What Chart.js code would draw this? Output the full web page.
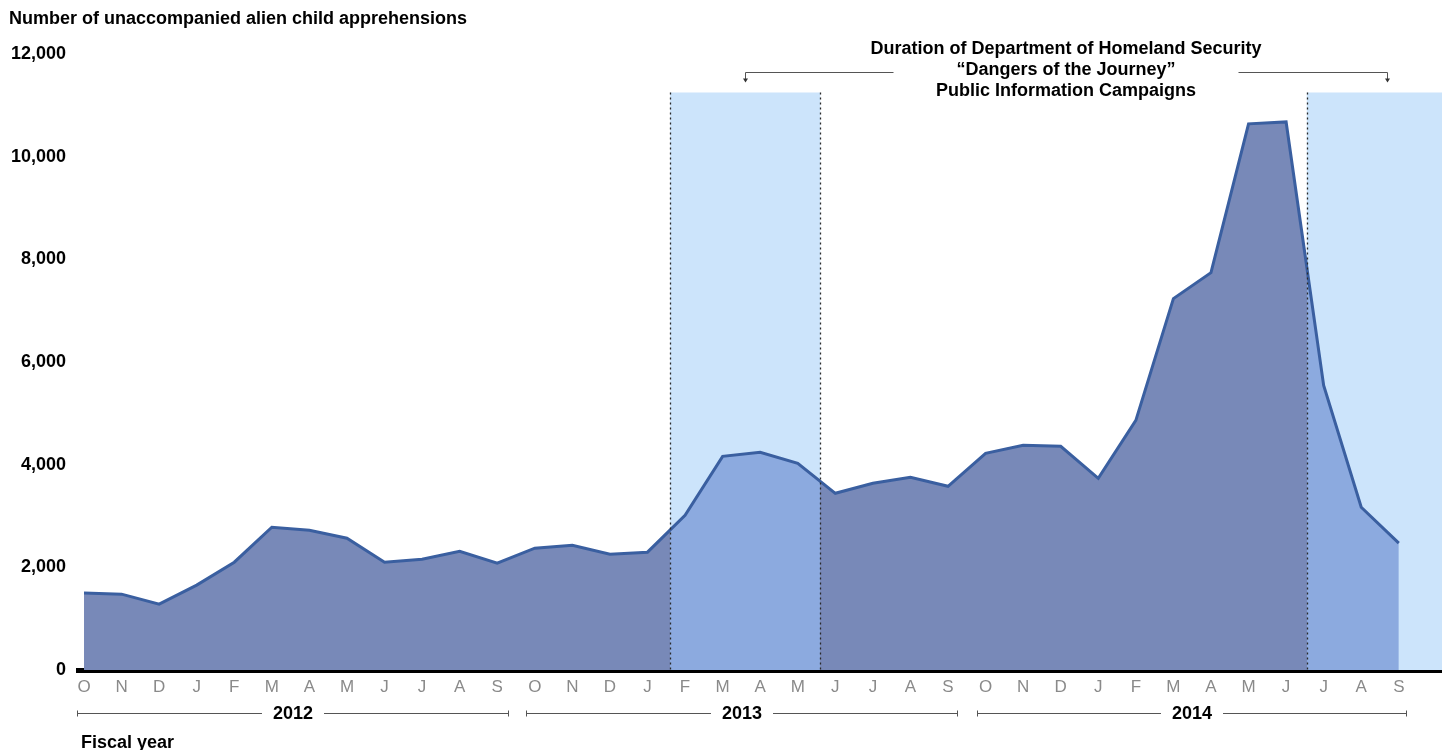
<!DOCTYPE html>
<html>
<head>
<meta charset="utf-8">
<script src="https://cdn.jsdelivr.net/npm/chart.js@4"></script>
<style>
  html, body { margin: 0; padding: 0; background: #ffffff; }
  #wrap { width: 1442px; height: 750px; position: relative; }
</style>
</head>
<body>
<div id="wrap"><canvas id="c"></canvas></div>
<script>
// ---------------- data ----------------
const monthLabels = ['O','N','D','J','F','M','A','M','J','J','A','S',
                     'O','N','D','J','F','M','A','M','J','J','A','S',
                     'O','N','D','J','F','M','A','M','J','J','A','S'];
const apprehensions = [1498, 1478, 1284, 1653, 2100, 2781, 2723, 2567, 2100, 2159, 2314, 2081,
                       2373, 2431, 2256, 2295, 3015, 4162, 4240, 4026, 3442, 3637, 3754, 3579,
                       4220, 4376, 4357, 3734, 4862, 7235, 7741, 10639, 10677, 5543, 3170, 2470];
const yTickValues = [0, 2000, 4000, 6000, 8000, 10000, 12000];
const fiscalYears = ['2012', '2013', '2014'];
const fiscalYearSpans = [[-0.19, 11.3], [11.76, 23.23], [23.76, 35.2]];
const campaignSpans = [[15.6, 19.6], [32.55, 36.15]];
const campaignTop = 11250;
const campaignArrowX = [17.6, 34.68];
const campaignArrowLineEnd = [21.53, 30.72];
const annotationLines = ['Duration of Department of Homeland Security', '\u201CDangers of the Journey\u201D', 'Public Information Campaigns'];
const annotationCenterX = 26.14;
const yAxisTitle = 'Number of unaccompanied alien child apprehensions';
const xAxisTitle = 'Fiscal year';

// ---------------- styles ----------------
const FONT = '"Liberation Sans", Arial, Helvetica, sans-serif';
const areaColor = 'rgb(120,137,184)';
const areaCampaignColor = 'rgb(140,170,223)';
const boxColor = 'rgb(204,228,251)';
const lineColor = 'rgb(58,95,160)';

const X_MIN = -0.16, X_MAX = 36.15;

function areaFill(ctx) {
  const chart = ctx.chart;
  const area = chart.chartArea;
  const xs = chart.scales.x;
  if (!area || !xs) return areaColor;
  const L = area.left, R = area.right, W = R - L;
  const g = chart.ctx.createLinearGradient(L, 0, R, 0);
  g.addColorStop(0, areaColor);
  campaignSpans.forEach(([a, b]) => {
    const p1 = Math.min(1, Math.max(0, (xs.getPixelForValue(a) - L) / W));
    const p2 = Math.min(1, Math.max(0, (xs.getPixelForValue(b) - L) / W));
    g.addColorStop(p1, areaColor);
    g.addColorStop(p1, areaCampaignColor);
    g.addColorStop(p2, areaCampaignColor);
    g.addColorStop(p2, areaColor);
  });
  return g;
}

const decorPlugin = {
  id: 'decor',
  beforeDatasetsDraw(chart) {
    const {ctx, scales: {x, y}} = chart;
    ctx.save();
    ctx.fillStyle = boxColor;
    campaignSpans.forEach(([a, b]) => {
      const x1 = x.getPixelForValue(a), x2 = x.getPixelForValue(b);
      const yt = y.getPixelForValue(campaignTop), yb = y.getPixelForValue(0);
      ctx.fillRect(x1, yt, x2 - x1, yb - yt);
    });
    ctx.restore();
  },
  afterDatasetsDraw(chart) {
    const {ctx, chartArea, scales: {x, y}} = chart;
    ctx.save();
    // dotted edges of campaign boxes
    ctx.strokeStyle = '#2a2a2a';
    ctx.lineWidth = 1.3;
    ctx.setLineDash([2, 3]);
    const yt = y.getPixelForValue(campaignTop), yb = y.getPixelForValue(0);
    campaignSpans.forEach(([a, b]) => {
      [a, b].forEach(v => {
        const px = Math.round(x.getPixelForValue(v)) + 0.5;
        if (px < chartArea.right - 2) {
          ctx.beginPath();
          ctx.moveTo(px, yt);
          ctx.lineTo(px, yb);
          ctx.stroke();
        }
      });
    });
    ctx.setLineDash([]);

    // annotation text
    ctx.fillStyle = '#000';
    ctx.font = 'bold 18px ' + FONT;
    ctx.textAlign = 'center';
    ctx.textBaseline = 'middle';
    const cx = x.getPixelForValue(annotationCenterX);
    const top = chartArea.top;
    annotationLines.forEach((t, i) => {
      ctx.fillText(t, cx, top - 5 + i * 21);
    });

    // arrows
    ctx.strokeStyle = '#555';
    ctx.fillStyle = '#333';
    ctx.lineWidth = 1;
    const ay = Math.round(top + 18) + 0.5;
    campaignArrowX.forEach((v, i) => {
      const ax = Math.round(x.getPixelForValue(v)) + 0.5;
      const ex = Math.round(x.getPixelForValue(campaignArrowLineEnd[i])) + 0.5;
      ctx.beginPath();
      ctx.moveTo(ex, ay);
      ctx.lineTo(ax, ay);
      ctx.lineTo(ax, ay + 7);
      ctx.stroke();
      ctx.beginPath();
      ctx.moveTo(ax - 2.5, ay + 6);
      ctx.lineTo(ax + 2.5, ay + 6);
      ctx.lineTo(ax, ay + 10);
      ctx.closePath();
      ctx.fill();
    });

    // fiscal year brackets
    const by = 713.5;
    ctx.font = 'bold 18px ' + FONT;
    fiscalYears.forEach((label, i) => {
      const [a, b] = fiscalYearSpans[i];
      const x1 = Math.round(x.getPixelForValue(a)) + 0.5;
      const x2 = Math.round(x.getPixelForValue(b)) + 0.5;
      const mid = (x1 + x2) / 2;
      const tw = ctx.measureText(label).width;
      ctx.strokeStyle = '#555';
      ctx.lineWidth = 1;
      ctx.beginPath();
      ctx.moveTo(x1, by); ctx.lineTo(mid - tw / 2 - 11, by);
      ctx.moveTo(mid + tw / 2 + 11, by); ctx.lineTo(x2, by);
      ctx.moveTo(x1, by - 3); ctx.lineTo(x1, by + 3);
      ctx.moveTo(x2, by - 3); ctx.lineTo(x2, by + 3);
      ctx.stroke();
      ctx.fillStyle = '#000';
      ctx.fillText(label, mid, by + 1);
    });

    // axis titles
    ctx.textAlign = 'left';
    ctx.fillStyle = '#000';
    ctx.font = 'bold 18px ' + FONT;
    ctx.fillText(xAxisTitle, 81, 743);
    ctx.fillText(yAxisTitle, 9, 19);
    ctx.restore();
  }
};

const chart = new Chart(document.getElementById('c'), {
  type: 'line',
  data: {
    datasets: [{
      data: apprehensions.map((v, i) => ({x: i, y: v})),
      borderColor: lineColor,
      borderWidth: 3,
      backgroundColor: areaFill,
      fill: 'origin',
      pointRadius: 0,
      tension: 0,
      borderJoinStyle: 'miter'
    }]
  },
  options: {
    responsive: true,
    maintainAspectRatio: false,
    animation: false,
    layout: {padding: {top: 54, left: 0, right: 0, bottom: 0}},
    plugins: {legend: {display: false}, tooltip: {enabled: false}, title: {display: false}},
    scales: {
      x: {
        type: 'linear',
        min: X_MIN,
        max: X_MAX,
        z: 1,
        afterBuildTicks: s => { s.ticks = monthLabels.map((_, i) => ({value: i})); },
        afterFit: s => { s.height = 80; },
        grid: {display: false, drawTicks: false},
        border: {display: true, color: '#000', width: 5},
        ticks: {
          autoSkip: false,
          maxRotation: 0,
          padding: 7,
          color: '#8a8a8a',
          font: {family: FONT, size: 17},
          callback: v => monthLabels[v] ?? ''
        }
      },
      y: {
        min: 0,
        max: 12000,
        afterBuildTicks: s => { s.ticks = yTickValues.map(v => ({value: v})); },
        afterFit: s => { s.width = 78; },
        grid: {display: false, drawTicks: false},
        border: {display: false},
        ticks: {
          padding: 12,
          color: '#000',
          font: {family: FONT, size: 18, weight: 'bold'},
          callback: v => v.toLocaleString('en-US')
        }
      }
    }
  },
  plugins: [decorPlugin]
});
</script>
</body>
</html>
